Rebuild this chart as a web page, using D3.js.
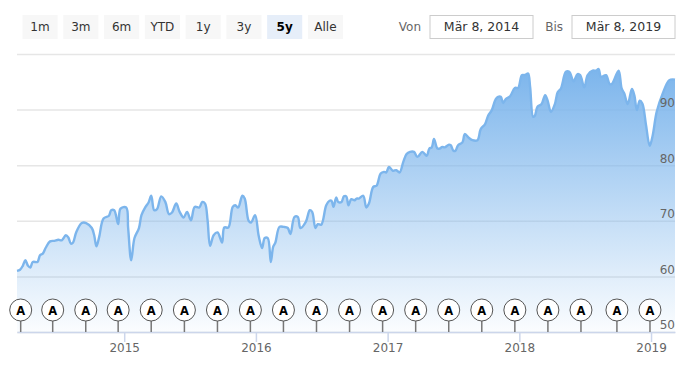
<!DOCTYPE html>
<html>
<head>
<meta charset="utf-8">
<script src="https://d3js.org/d3.v7.min.js"></script>
<style>
    body { margin: 0; background: #fff; }
    text { font-family: "DejaVu Sans", sans-serif; }
    .gridlines line { stroke: #e6e6e6; stroke-width: 1.5; }
    .gridlines .domain { stroke: none; }
    .ylabels line, .ylabels .domain { stroke: none; }
    .ylabels text { fill: #666; font-size: 12px; }
    .xaxis line, .xaxis .domain { stroke: #ccd6eb; stroke-width: 1.5; }
    .xaxis text { fill: #666; font-size: 12px; }
</style>
</head>
<body>
<svg id="chart" width="685" height="372"></svg>
<script>
// values, dates as decimal years
const years = [
    2014.186, 2014.209, 2014.230, 2014.249, 2014.270, 2014.287, 2014.306, 2014.341, 2014.361, 2014.382,
    2014.405, 2014.437, 2014.470, 2014.500, 2014.526, 2014.557, 2014.576, 2014.595, 2014.612, 2014.635,
    2014.678, 2014.711, 2014.754, 2014.772, 2014.789, 2014.810, 2014.843, 2014.884, 2014.901, 2014.924,
    2014.954, 2014.972, 2015.015, 2015.030, 2015.053, 2015.078, 2015.112, 2015.131, 2015.162, 2015.185,
    2015.205, 2015.228, 2015.249, 2015.281, 2015.312, 2015.340, 2015.363, 2015.395, 2015.421, 2015.451,
    2015.477, 2015.507, 2015.535, 2015.570, 2015.593, 2015.614, 2015.633, 2015.652, 2015.679, 2015.709,
    2015.743, 2015.760, 2015.791, 2015.824, 2015.844, 2015.865, 2015.897, 2015.915, 2015.945, 2015.963,
    2015.994, 2016.021, 2016.047, 2016.067, 2016.090, 2016.113, 2016.131, 2016.148, 2016.179, 2016.211,
    2016.242, 2016.262, 2016.293, 2016.318, 2016.338, 2016.379, 2016.409, 2016.427, 2016.452, 2016.470,
    2016.496, 2016.534, 2016.559, 2016.574, 2016.589, 2016.610, 2016.625, 2016.650, 2016.668, 2016.686,
    2016.703, 2016.724, 2016.749, 2016.764, 2016.782, 2016.815, 2016.838, 2016.858, 2016.891, 2016.916,
    2016.947, 2016.972, 2016.990, 2017.010, 2017.040, 2017.066, 2017.091, 2017.119, 2017.144, 2017.170,
    2017.200, 2017.226, 2017.264, 2017.297, 2017.317, 2017.335, 2017.352, 2017.378, 2017.395, 2017.416,
    2017.433, 2017.466, 2017.479, 2017.500, 2017.515, 2017.535, 2017.568, 2017.586, 2017.618, 2017.644,
    2017.682, 2017.707, 2017.740, 2017.763, 2017.791, 2017.821, 2017.839, 2017.859, 2017.877, 2017.897,
    2017.930, 2017.966, 2017.991, 2018.019, 2018.037, 2018.050, 2018.067, 2018.082, 2018.105, 2018.118,
    2018.138, 2018.169, 2018.196, 2018.214, 2018.240, 2018.270, 2018.291, 2018.316, 2018.354, 2018.379,
    2018.412, 2018.442, 2018.462, 2018.493, 2018.519, 2018.557, 2018.582, 2018.602, 2018.620, 2018.658,
    2018.686, 2018.703, 2018.754, 2018.777, 2018.797, 2018.823, 2018.855, 2018.873, 2018.893, 2018.914,
    2018.934, 2018.962, 2018.990, 2019.013, 2019.043, 2019.089, 2019.139, 2019.182
];
const prices = [
    61.0, 61.2, 61.9, 62.9, 61.9, 61.6, 62.6, 62.6, 63.8, 64.1,
    65.2, 66.3, 66.4, 66.6, 66.5, 67.4, 67.0, 65.9, 66.1, 67.9,
    69.6, 69.6, 68.7, 67.4, 65.4, 67.1, 70.4, 70.9, 71.9, 71.9,
    69.4, 72.2, 72.4, 68.7, 62.9, 66.9, 68.7, 71.0, 72.5, 73.3,
    74.5, 71.9, 72.1, 74.4, 73.4, 71.2, 71.5, 73.1, 71.6, 70.6,
    71.6, 70.1, 72.5, 72.4, 73.4, 73.1, 70.1, 65.5, 67.4, 67.9,
    66.1, 68.8, 68.8, 72.5, 72.8, 72.4, 74.5, 74.0, 70.0, 69.7,
    71.0, 67.3, 65.1, 66.9, 66.9, 62.6, 65.3, 66.1, 68.9, 68.9,
    68.7, 67.6, 70.7, 70.7, 68.7, 69.8, 71.9, 71.6, 68.7, 69.4,
    69.3, 72.8, 73.6, 73.6, 72.5, 74.2, 73.4, 73.4, 74.4, 74.4,
    72.8, 73.9, 73.7, 74.0, 74.0, 74.5, 72.4, 73.1, 76.1, 76.3,
    78.5, 78.8, 78.7, 79.7, 79.0, 79.1, 78.7, 80.6, 82.0, 82.4,
    82.4, 81.5, 82.4, 81.7, 83.0, 83.2, 84.7, 83.0, 83.0, 83.3,
    83.2, 83.7, 83.6, 82.6, 82.6, 83.6, 84.1, 85.6, 84.9, 84.5,
    84.5, 86.5, 87.4, 88.9, 89.9, 91.9, 92.3, 92.3, 91.2, 91.9,
    92.4, 93.9, 93.9, 96.2, 96.2, 96.3, 96.5, 94.1, 88.7, 88.9,
    90.5, 91.0, 92.6, 91.7, 89.6, 91.0, 93.1, 93.8, 96.8, 96.8,
    95.1, 96.4, 96.2, 94.0, 96.2, 97.0, 97.0, 97.3, 95.9, 96.2,
    94.6, 94.6, 97.0, 93.8, 92.9, 91.0, 93.7, 92.6, 89.9, 91.6,
    91.1, 87.2, 83.5, 85.4, 89.6, 92.9, 95.3, 95.4
];
const flagYears = [
    2014.214, 2014.457, 2014.708, 2014.954, 2015.205, 2015.457, 2015.708, 2015.958, 2016.209, 2016.460,
    2016.711, 2016.962, 2017.213, 2017.464, 2017.715, 2017.966, 2018.217, 2018.468, 2018.741, 2018.992
];
const yearTicks = [2015, 2016, 2017, 2018, 2019];
const gridTicks = [50, 60, 70, 80, 90, 100];
const labelTicks = [50, 60, 70, 80, 90];
const rangeLabels = ["1m", "3m", "6m", "YTD", "1y", "3y", "5y", "Alle"];
const selectedRange = "5y";
const dateInputs = [
    { label: "Von", value: "Mär 8, 2014" },
    { label: "Bis", value: "Mär 8, 2019" }
];

const svg = d3.select("svg#chart");
const margin = { top: 54, right: 10, bottom: 40, left: 17 };
const chartWidth = 685 - margin.left - margin.right;
const chartHeight = 372 - margin.top - margin.bottom;

const data = years.map((y, i) => ({ year: y, price: prices[i] }));

const timeScale = d3.scaleLinear().domain([years[0], years[years.length - 1]]).range([0, chartWidth]);
const valueScale = d3.scaleLinear().domain([50, 100]).range([chartHeight, 0]);

// range selector buttons
const buttonStep = d3.scaleBand().domain(rangeLabels).range([22.5, 343]).paddingInner(0.14).paddingOuter(0);
const buttons = svg.append("g").attr("id", "buttons");
const button = buttons.selectAll("g").data(rangeLabels).join("g")
    .attr("transform", d => `translate(${buttonStep(d)},15)`);
button.append("rect")
    .attr("width", buttonStep.bandwidth())
    .attr("height", 24)
    .attr("fill", d => d === selectedRange ? "#e6eef9" : "#f7f7f7");
button.append("text")
    .attr("x", buttonStep.bandwidth() / 2)
    .attr("y", 15.5)
    .attr("text-anchor", "middle")
    .attr("font-size", 12)
    .attr("font-weight", d => d === selectedRange ? "bold" : "normal")
    .attr("fill", d => d === selectedRange ? "#000" : "#333")
    .text(d => d);

// date inputs
const inputs = svg.append("g").attr("id", "inputs");
const inputX = d3.scalePoint().domain(dateInputs.map(d => d.label)).range([430, 572]);
const input = inputs.selectAll("g").data(dateInputs).join("g")
    .attr("transform", d => `translate(${inputX(d.label)},15.5)`);
input.append("rect")
    .attr("width", 103)
    .attr("height", 23)
    .attr("fill", "#fff")
    .attr("stroke", "#ccc")
    .attr("stroke-width", 1);
input.append("text")
    .attr("x", 51.5)
    .attr("y", 15)
    .attr("text-anchor", "middle")
    .attr("font-size", 12.5)
    .attr("fill", "#333")
    .text(d => d.value);
input.append("text")
    .attr("x", -9)
    .attr("y", 15)
    .attr("text-anchor", "end")
    .attr("font-size", 12)
    .attr("fill", "#666")
    .text(d => d.label);

const chartArea = svg.append("g").attr("transform", `translate(${margin.left},${margin.top})`);

// gridlines go under the area
const gridlines = d3.axisLeft(valueScale)
    .tickValues(gridTicks)
    .tickSize(chartWidth)
    .tickFormat("");
chartArea.append("g")
    .attr("class", "gridlines")
    .attr("transform", `translate(${chartWidth},0)`)
    .call(gridlines);

// area gradient
const defs = svg.append("defs");
const gradient = defs.append("linearGradient")
    .attr("id", "areaFill")
    .attr("gradientUnits", "userSpaceOnUse")
    .attr("x1", 0).attr("x2", 0)
    .attr("y1", valueScale(d3.max(prices))).attr("y2", chartHeight);
gradient.append("stop").attr("offset", 0).attr("stop-color", "#7cb5ec").attr("stop-opacity", 1);
gradient.append("stop").attr("offset", 1).attr("stop-color", "#7cb5ec").attr("stop-opacity", 0.03);

const areaDrawer = d3.area()
    .x(d => timeScale(d.year))
    .y0(chartHeight)
    .y1(d => valueScale(d.price))
    .curve(d3.curveCatmullRom);
const lineDrawer = d3.line()
    .x(d => timeScale(d.year))
    .y(d => valueScale(d.price))
    .curve(d3.curveCatmullRom);

chartArea.append("path")
    .attr("fill", "url(#areaFill)")
    .attr("d", areaDrawer(data));
chartArea.append("path")
    .attr("fill", "none")
    .attr("stroke", "#7cb5ec")
    .attr("stroke-width", 2.4)
    .attr("stroke-linejoin", "round")
    .attr("d", lineDrawer(data));

// y labels sit above their gridline, inside the right edge
const leftLabels = d3.axisLeft(valueScale)
    .tickValues(labelTicks)
    .tickSize(0)
    .tickPadding(0);
chartArea.append("g")
    .attr("class", "ylabels")
    .attr("transform", `translate(${chartWidth},-7)`)
    .call(leftLabels);

// x axis
const bottomAxis = d3.axisBottom(timeScale)
    .tickValues(yearTicks)
    .tickSize(10)
    .tickSizeOuter(0)
    .tickPadding(1)
    .tickFormat(d3.format("d"));
chartArea.append("g")
    .attr("class", "xaxis")
    .attr("transform", `translate(0,${chartHeight})`)
    .call(bottomAxis);

// flags
const flags = chartArea.selectAll("g.flag").data(flagYears).join("g")
    .attr("class", "flag")
    .attr("transform", d => `translate(${timeScale(d)},${valueScale(50)})`);
flags.append("line")
    .attr("y1", -11)
    .attr("y2", 0)
    .attr("stroke", "#777")
    .attr("stroke-width", 1.5);
flags.append("circle")
    .attr("cy", -22)
    .attr("r", 11)
    .attr("fill", "#fff")
    .attr("stroke", "#555")
    .attr("stroke-width", 1);
flags.append("text")
    .attr("y", -17.5)
    .attr("text-anchor", "middle")
    .attr("font-size", 11.5)
    .attr("font-weight", "bold")
    .attr("fill", "#000")
    .text("A");
</script>
</body>
</html>
